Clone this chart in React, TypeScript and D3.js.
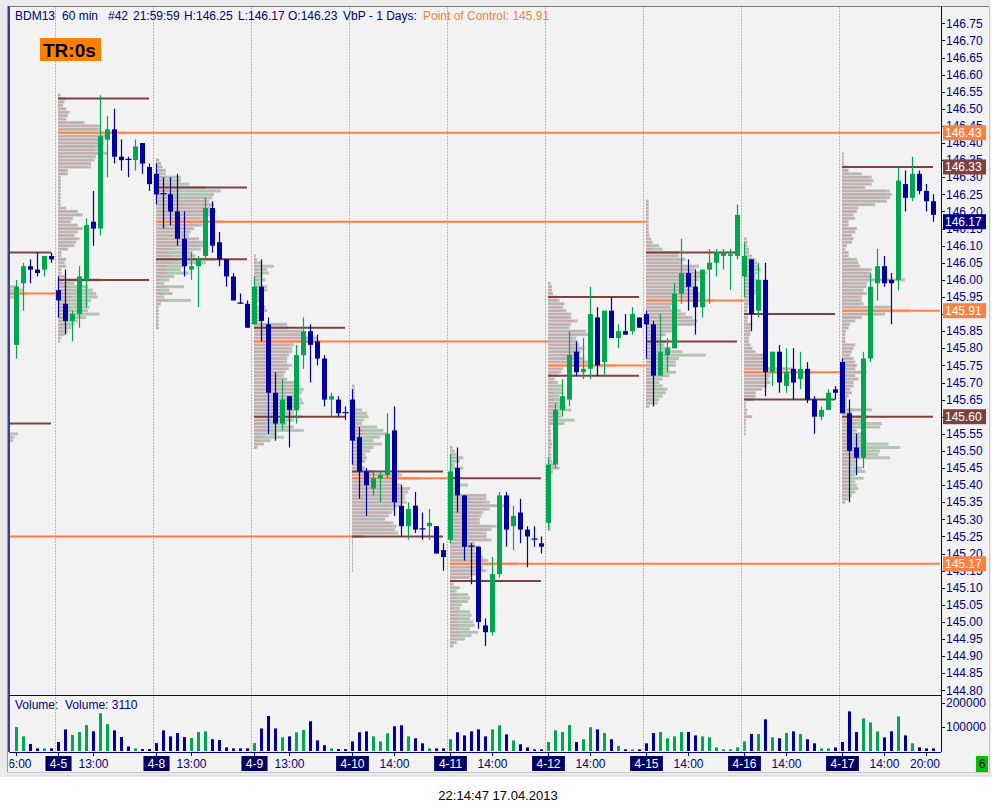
import React from 'react';
import * as d3 from 'd3';

// BDM13, 60 min bars, volume-by-price per day
const days = ['4-4', '4-5', '4-8', '4-9', '4-10', '4-11', '4-12', '4-15', '4-16', '4-17'];
// index of the 08:00 bar of each day (4-4 begins before the window)
const dayFirstBar = [-8, 6, 20, 34, 48, 62, 76, 90, 104, 118];

const opens = [
  145.81, 145.99, 146.04, 146.03, 146.03, 146.07,
  145.97, 145.93, 145.88, 145.90, 146.00, 146.17, 146.15, 146.41, 146.44, 146.36, 146.352, 146.35, 146.40, 146.33,
  146.31, 146.252, 146.25, 146.20, 146.12, 146.03, 146.04, 146.07, 146.21, 146.11, 146.06, 146.01, 145.932, 145.93,
  145.87, 145.98, 145.87, 145.67, 145.58, 145.66, 145.62, 145.78, 145.85, 145.82, 145.77, 145.65, 145.65, 145.612,
  145.65, 145.54, 145.44, 145.39, 145.42, 145.43, 145.56, 145.34, 145.28, 145.34, 145.272, 145.28, 145.28, 145.21,
  145.24, 145.45, 145.37, 145.222, 145.22, 144.99, 144.97, 145.14, 145.37, 145.28, 145.32, 145.27, 145.242, 145.23,
  145.29, 145.46, 145.62, 145.65, 145.79, 145.73, 145.74, 145.89, 145.76, 145.91, 145.83, 145.85, 145.85, 145.89,
  145.90, 145.87, 145.72, 145.78, 145.80, 145.96, 146.02, 145.98, 145.92, 146.03, 146.05, 146.07, 146.07, 146.07,
  146.01, 146.06, 145.91, 146.00, 145.73, 145.79, 145.69, 145.74, 145.71, 145.74, 145.65, 145.60, 145.62, 145.68,
  145.76, 145.61, 145.51, 145.48, 145.77, 145.99, 146.04, 146.00, 146.00, 146.28, 146.24, 146.31, 146.26, 146.23,
];
const highs = [
  146.00, 146.05, 146.06, 146.08, 146.07, 146.08,
  146.01, 146.03, 145.91, 146.04, 146.18, 146.26, 146.54, 146.48, 146.50, 146.41, 146.36, 146.41, 146.40, 146.34,
  146.34, 146.30, 146.30, 146.31, 146.20, 146.08, 146.07, 146.24, 146.23, 146.14, 146.06, 146.02, 145.96, 145.94,
  146.01, 146.06, 145.89, 145.73, 145.71, 145.66, 145.81, 145.89, 145.87, 145.84, 145.78, 145.67, 145.66, 145.63,
  145.68, 145.57, 145.45, 145.44, 145.44, 145.61, 145.63, 145.40, 145.35, 145.38, 145.32, 145.33, 145.28, 145.23,
  145.49, 145.51, 145.37, 145.23, 145.22, 145.01, 145.19, 145.38, 145.38, 145.34, 145.36, 145.28, 145.28, 145.25,
  145.48, 145.64, 145.71, 145.85, 145.82, 145.83, 145.98, 145.92, 145.91, 145.95, 145.87, 145.90, 145.92, 145.89,
  145.91, 145.88, 145.90, 145.83, 145.99, 146.12, 146.06, 146.03, 146.03, 146.09, 146.09, 146.09, 146.09, 146.22,
  146.11, 146.06, 146.05, 146.05, 145.79, 145.81, 145.80, 145.80, 145.79, 145.76, 145.66, 145.63, 145.68, 145.69,
  145.77, 145.65, 145.55, 145.79, 146.02, 146.09, 146.07, 146.02, 146.33, 146.32, 146.36, 146.32, 146.28, 146.25,
];
const lows = [
  145.77, 145.91, 145.99, 146.01, 146.01, 146.05,
  145.89, 145.84, 145.82, 145.86, 145.92, 146.10, 146.13, 146.30, 146.34, 146.32, 146.30, 146.32, 146.31, 146.26,
  146.22, 146.15, 146.16, 146.10, 146.01, 146.00, 145.92, 146.06, 146.08, 146.04, 145.98, 145.94, 145.93, 145.86,
  145.87, 145.82, 145.55, 145.53, 145.56, 145.51, 145.58, 145.74, 145.70, 145.75, 145.63, 145.60, 145.60, 145.59,
  145.46, 145.36, 145.31, 145.37, 145.35, 145.42, 145.31, 145.25, 145.24, 145.26, 145.24, 145.24, 145.20, 145.15,
  145.23, 145.32, 145.18, 145.11, 144.98, 144.93, 144.96, 145.13, 145.22, 145.21, 145.23, 145.16, 145.22, 145.20,
  145.27, 145.45, 145.60, 145.63, 145.72, 145.71, 145.71, 145.72, 145.72, 145.83, 145.80, 145.84, 145.84, 145.86,
  145.77, 145.63, 145.72, 145.73, 145.80, 145.93, 145.91, 145.84, 145.89, 145.93, 146.01, 146.03, 145.97, 146.06,
  145.95, 145.85, 145.89, 145.66, 145.69, 145.67, 145.67, 145.65, 145.68, 145.64, 145.55, 145.59, 145.62, 145.65,
  145.61, 145.35, 145.43, 145.45, 145.76, 145.94, 145.98, 145.87, 145.97, 146.20, 146.23, 146.25, 146.20, 146.17,
];
const closes = [
  145.98, 146.04, 146.03, 146.02, 146.07, 146.06,
  145.94, 145.88, 145.90, 146.01, 146.16, 146.15, 146.42, 146.44, 146.36, 146.35, 146.350, 146.39, 146.34, 146.28,
  146.25, 146.250, 146.20, 146.12, 146.04, 146.04, 146.06, 146.21, 146.10, 146.06, 146.01, 145.94, 145.930, 145.86,
  145.98, 145.88, 145.67, 145.58, 145.65, 145.62, 145.78, 145.85, 145.81, 145.77, 145.65, 145.66, 145.61, 145.610,
  145.53, 145.44, 145.40, 145.42, 145.43, 145.55, 145.35, 145.28, 145.33, 145.27, 145.270, 145.29, 145.20, 145.19,
  145.44, 145.37, 145.22, 145.220, 145.00, 144.97, 145.14, 145.37, 145.27, 145.31, 145.27, 145.25, 145.240, 145.22,
  145.46, 145.62, 145.66, 145.78, 145.73, 145.74, 145.90, 145.75, 145.91, 145.83, 145.85, 145.84, 145.90, 145.86,
  145.87, 145.72, 145.79, 145.80, 145.96, 146.02, 145.98, 145.92, 146.03, 146.05, 146.08, 146.08, 146.075, 146.19,
  146.07, 145.90, 146.00, 145.73, 145.79, 145.70, 145.73, 145.70, 145.74, 145.65, 145.60, 145.62, 145.67, 145.67,
  145.61, 145.50, 145.48, 145.77, 145.98, 146.04, 145.99, 145.99, 146.29, 146.24, 146.31, 146.26, 146.23, 146.19,
];
const volumes = [
  100000, 61000, 29000, 11000, 11000, 11000,
  37500, 90000, 67000, 79000, 108000, 82000, 157000, 112000, 86000, 58000, 19000, 11000, 8000, 8000,
  33000, 86000, 61000, 75000, 58000, 54000, 79000, 82000, 49000, 46000, 15000, 11000, 11000, 11000,
  33000, 94000, 146000, 94000, 57000, 61000, 78000, 87500, 124000, 44000, 24000, 11000, 8000, 8000,
  40000, 78000, 82000, 61000, 40000, 74000, 103000, 107000, 61000, 53000, 32000, 11000, 11000, 11000,
  49000, 78000, 65000, 82000, 90000, 61000, 90000, 107000, 69000, 44000, 28000, 15000, 7000, 7000,
  37500, 86000, 79000, 108000, 37500, 49000, 99000, 90000, 75000, 49000, 21000, 7000, 7000, 7000,
  32000, 75000, 79000, 53000, 61000, 79000, 79000, 65000, 61000, 57000, 15000, 7000, 7000, 15000,
  40000, 71000, 71000, 132000, 57000, 53000, 75000, 82000, 71000, 49000, 32000, 11000, 11000, 15000,
  37500, 165000, 79000, 136000, 119000, 82000, 57000, 82000, 144000, 65000, 32000, 15000, 11000, 11000,
];
const lastPrice = 146.17;

// volume at price, one row per 0.01 from the top price down (days 4-5 .. 4-17)
const profileTops = [146.54, 146.35, 146.07, 145.69, 145.51, 145.99, 146.23, 146.12, 146.37];
const profileVols = [
  [8, 25, 20, 15, 25, 35, 30, 25, 80, 130, 130, 205, 150, 140, 140, 125, 120, 150, 115, 110, 100, 100, 30, 30, 8, 8, 8, 8, 8, 8, 8, 8, 8,
    25, 60, 75, 45, 40, 60, 75, 60, 50, 65, 55, 50, 30, 10, 10, 25, 20, 25, 10, 10, 20, 128, 50, 90, 105, 115, 120, 100, 90, 95, 90, 125,
    85, 60, 50, 40, 30, 20, 10, 5],
  [10, 15, 20, 30, 30, 75, 75, 100, 150, 195, 175, 170, 160, 175, 165, 180, 175, 145, 205, 140, 115, 105, 100, 130, 145, 145, 135, 110,
    120, 180, 150, 90, 75, 100, 55, 40, 25, 85, 40, 50, 25, 105, 15, 8, 8, 8, 8, 8, 8, 8],
  [5, 10, 25, 60, 40, 45, 25, 35, 20, 40, 40, 25, 30, 15, 10, 35, 40, 15, 15, 20, 100, 105, 145, 150, 190, 205, 120, 115, 115, 105, 100,
    100, 115, 105, 95, 90, 100, 130, 140, 150, 145, 135, 145, 150, 140, 135, 120, 145, 120, 100, 120, 150, 70, 90, 50, 30, 10],
  [8, 8, 8, 8, 8, 8, 10, 30, 45, 50, 35, 30, 75, 95, 105, 85, 65, 90, 65, 55, 40, 45, 40, 30, 40, 70, 150, 205, 130, 150, 175, 170, 160,
    160, 165, 150, 130, 120, 110, 100, 125, 135, 130, 140, 40, 3, 3, 3, 3, 3, 3, 3, 3, 3, 3],
  [8, 15, 20, 40, 30, 15, 40, 10, 10, 10, 20, 55, 20, 20, 110, 110, 120, 180, 120, 100, 95, 90, 90, 140, 125, 110, 110, 125, 75, 90, 75,
    85, 100, 115, 205, 100, 110, 90, 60, 20, 10, 30, 20, 55, 60, 55, 35, 30, 60, 65, 60, 70, 75, 60, 85, 65, 45, 20, 10],
  [8, 12, 12, 15, 25, 35, 50, 45, 55, 70, 70, 90, 70, 65, 115, 125, 85, 90, 95, 110, 100, 95, 110, 130, 205, 45, 40, 30, 20, 30, 45, 40,
    45, 35, 50, 45, 55, 70, 40, 40, 80, 50, 8, 8, 10, 8, 10, 12, 10, 8, 10, 10, 12, 20, 35, 15, 8, 8, 8, 8, 8, 8, 8, 8, 8, 8, 8, 8, 8, 8,
    8, 8, 8],
  [8, 8, 8, 8, 8, 8, 8, 8, 8, 8, 10, 15, 20, 40, 50, 100, 100, 120, 110, 160, 150, 185, 165, 160, 150, 155, 150, 165, 165, 205, 90, 75,
    105, 120, 140, 155, 150, 90, 80, 60, 45, 60, 55, 75, 110, 180, 100, 90, 90, 70, 90, 70, 50, 40, 50, 65, 60, 50, 40, 35, 10],
  [8, 10, 10, 15, 15, 25, 35, 40, 45, 50, 40, 35, 40, 40, 35, 45, 35, 20, 15, 15, 12, 10, 10, 12, 10, 25, 20, 20, 20, 15, 15, 20, 25,
    35, 60, 65, 70, 65, 150, 205, 80, 75, 80, 70, 55, 35, 35, 30, 5, 5, 10, 8, 25, 5, 5, 5, 5, 5],
  [5, 5, 5, 5, 15, 20, 60, 90, 95, 90, 70, 145, 150, 145, 135, 100, 50, 45, 35, 40, 20, 20, 45, 40, 30, 35, 30, 15, 10, 20, 20, 45, 50,
    55, 90, 85, 90, 190, 75, 75, 65, 75, 60, 60, 65, 150, 205, 130, 60, 40, 25, 20, 12, 10, 10, 10, 40, 35, 30, 25, 35, 40, 45, 40, 75,
    40, 50, 35, 35, 25, 30, 20, 15, 15, 15, 90, 30, 80, 60, 120, 115, 45, 60, 70, 75, 140, 175, 115, 110, 145, 45, 40, 60, 70, 40, 65, 40,
    45, 50, 40, 30, 20, 10],
];
// price bands where buying volume shows up in the profile rows
const profileBuyBands = [
  [[145.99, 145.83]],
  [[146.31, 146.25], [146.09, 145.94]],
  [[146.06, 145.92], [145.60, 145.53]],
  [[145.62, 145.50]],
  [[145.50, 145.40], [145.10, 144.94]],
  [[145.69, 145.59]],
  [[146.10, 146.09], [145.80, 145.64]],
  [[146.08, 145.97]],
  [[145.62, 145.37]],
];
// the part of the 4-4 profile that reaches into the window
const profile44 = [[145.98, 175], [145.97, 190], [145.96, 205], [145.95, 180], [145.55, 175], [145.54, 165], [145.53, 160]];

// point of control per day and the day that traded back through it (-1 = still open)
const pocPrices = [145.96, 146.43, 146.17, 145.82, 145.42, 145.17, 145.75, 145.94, 145.73, 145.91];
const pocEndDay = [1, -1, 7, 6, 5, -1, 7, 8, 9, -1];
const olderPoc = { price: 145.25, endDay: 4 };
const vahPrices = [146.08, 146.53, 146.27, 145.86, 145.44, 145.42, 145.95, 146.08, 145.90, 146.33];
const valPrices = [145.58, 146.00, 146.06, 145.60, 145.25, 145.12, 145.72, 145.82, 145.65, 145.60];

const timeTicks = [
  { bar: 0, text: '16:00' }, { bar: 6, text: '4-5', date: true }, { bar: 11, text: '13:00' },
  { bar: 20, text: '4-8', date: true }, { bar: 25, text: '13:00' }, { bar: 34, text: '4-9', date: true },
  { bar: 39, text: '13:00' }, { bar: 48, text: '4-10', date: true }, { bar: 54, text: '14:00' },
  { bar: 62, text: '4-11', date: true }, { bar: 68, text: '14:00' }, { bar: 76, text: '4-12', date: true },
  { bar: 82, text: '14:00' }, { bar: 90, text: '4-15', date: true }, { bar: 96, text: '14:00' },
  { bar: 104, text: '4-16', date: true }, { bar: 110, text: '14:00' }, { bar: 118, text: '4-17', date: true },
  { bar: 124, text: '14:00' }, { bar: 130, text: '20:00' },
];
const volumeTicks = [100000, 200000];

// header pieces as the platform spaces them
const headerParts = [
  { x: 15, text: 'BDM13' }, { x: 62, text: '60 min' }, { x: 108, text: '#42' }, { x: 133, text: '21:59:59' },
  { x: 184, text: 'H:146.25' }, { x: 238, text: 'L:146.17' }, { x: 288, text: 'O:146.23' }, { x: 343, text: 'VbP - 1 Days:' },
];

const GREEN = '#00a651';
const BLUE = '#0000a0';
const NAVY = '#000080';
const ORANGE = '#ff8040';
const BROWN = '#804040';
const FONT = '"Liberation Sans", Arial, sans-serif';

const L = 9.5, R = 941, T = 6.5, MID = 695, B = 752;

const x = d3.scaleLinear().domain([0, 131]).range([16, 933]);
const y = d3.scaleLinear().domain([144.8, 146.75]).range([690.4, 23.3]);
const yVol = d3.scaleLinear().domain([0, 200000]).range([751, 703]);
const wProf = d3.scaleLinear().domain([0, 205]).range([0, 68]);

const priceTicks = d3.range(0, 40).map((i) => +(144.8 + i * 0.05).toFixed(2));
const lastBar = opens.length - 1;

const inBands = (p: number, bands: number[][]) => bands.some(([hi, lo]) => p <= hi + 0.001 && p >= lo - 0.001);

const App: React.FC = () => {
  const profileRows: React.ReactNode[] = [];
  profileVols.forEach((vols, d) => {
    const x0 = x(dayFirstBar[d + 1]);
    const poc = pocPrices[d + 1];
    vols.forEach((v, r) => {
      const p = +(profileTops[d] - r * 0.01).toFixed(2);
      const yy = y(p);
      const w = wProf(v);
      const isPoc = Math.abs(p - poc) < 0.001;
      const buy = inBands(p, profileBuyBands[d]);
      profileRows.push(
        <g key={`p${d}-${r}`}>
          <rect x={x0} y={yy - 1.5} width={w} height={3} fill={isPoc ? '#f7c4ae' : '#bebebe'} />
          {!isPoc && !buy && <rect x={x0} y={yy - 0.7} width={w * 0.9} height={1.4} fill="#c7a9a9" />}
          {!isPoc && buy && (
            <>
              <rect x={x0} y={yy - 0.7} width={w * 0.35} height={1.4} fill="#c7a4a4" />
              <rect x={x0 + w * 0.35} y={yy - 0.7} width={w * 0.57} height={1.4} fill="#a4cda4" />
            </>
          )}
        </g>
      );
    });
  });
  profile44.forEach(([p, v], r) => {
    const x0 = x(dayFirstBar[0]);
    profileRows.push(
      <rect key={`p44-${r}`} x={x0} y={y(p) - 1.5} width={wProf(v)} height={3}
        fill={Math.abs(p - pocPrices[0]) < 0.001 ? '#f7c4ae' : '#bebebe'} />
    );
  });

  const barEnd = (endDay: number) => (endDay < 0 ? R - 1 : x(dayFirstBar[endDay]));

  const axisLabels = [
    { p: pocPrices[1], fill: ORANGE },
    { p: vahPrices[9], fill: BROWN },
    { p: lastPrice, fill: NAVY },
    { p: pocPrices[9], fill: ORANGE },
    { p: valPrices[9], fill: BROWN },
    { p: pocPrices[5], fill: ORANGE },
  ];

  return (
    <svg width={996} height={811} style={{ position: 'absolute', left: 0, top: 0 }} fontFamily={FONT}>
      <defs>
        <clipPath id="pricePane"><rect x={L + 0.5} y={T + 0.5} width={R - L - 1} height={MID - T - 1} /></clipPath>
        <clipPath id="volPane"><rect x={L + 0.5} y={MID + 0.5} width={R - L - 1} height={B - MID - 1} /></clipPath>
        <clipPath id="timeAxis"><rect x={L} y={B} width={R - L + 1} height={20} /></clipPath>
      </defs>
      <rect x={0} y={0} width={996} height={811} fill="#ffffff" />
      <rect x={0} y={0} width={991} height={777} fill="#ebebeb" />
      <rect x={7} y={T} width={982} height={766} fill="#f2f2f2" />
      <line x1={7} x2={989} y1={T} y2={T} stroke="#7a7a7a" />
      <line x1={7.5} x2={7.5} y1={T} y2={772} stroke="#9a9a9a" />
      <line x1={989.5} x2={989.5} y1={T} y2={773} stroke="#c8c8c8" />
      <line x1={7} x2={990} y1={772.5} y2={772.5} stroke="#c8c8c8" />
      <line x1={7} x2={990} y1={775.5} y2={775.5} stroke="#dcdcdc" />

      {/* day separators */}
      {dayFirstBar.slice(1).map((b, i) => (
        <line key={`sep${i}`} x1={Math.round(x(b) - 3.5) + 0.5} x2={Math.round(x(b) - 3.5) + 0.5} y1={T + 1} y2={B}
          stroke="#808080" strokeDasharray="1,2" />
      ))}

      <g clipPath="url(#pricePane)">
        {profileRows}

        {/* value area lines */}
        {vahPrices.map((p, d) => (
          <line key={`vah${d}`} x1={x(dayFirstBar[d])} x2={x(Math.min(dayFirstBar[d] + 13, lastBar))} y1={y(p)} y2={y(p)}
            stroke={BROWN} strokeWidth={2} />
        ))}
        {valPrices.map((p, d) => (
          <line key={`val${d}`} x1={x(dayFirstBar[d])} x2={x(Math.min(dayFirstBar[d] + 13, lastBar))} y1={y(p)} y2={y(p)}
            stroke={BROWN} strokeWidth={2} />
        ))}

        {/* points of control, running until traded through */}
        <line x1={0} x2={barEnd(olderPoc.endDay)} y1={y(olderPoc.price)} y2={y(olderPoc.price)} stroke={ORANGE} strokeWidth={2} />
        {pocPrices.map((p, d) => (
          <line key={`poc${d}`} x1={x(dayFirstBar[d])} x2={barEnd(pocEndDay[d])} y1={y(p)} y2={y(p)} stroke={ORANGE} strokeWidth={2} />
        ))}

        {/* candles */}
        {opens.map((o, i) => {
          const c = closes[i];
          const col = c > o ? GREEN : BLUE;
          const cx = Math.round(x(i)) + 0.5;
          const top = y(Math.max(o, c));
          const bot = y(Math.min(o, c));
          const doji = Math.abs(c - o) < 0.004;
          return (
            <g key={`c${i}`}>
              <line x1={cx} x2={cx} y1={y(highs[i])} y2={y(lows[i])} stroke={col} strokeWidth={1.2} />
              {doji ? (
                <line x1={cx - 3} x2={cx + 3} y1={top} y2={top} stroke={col} strokeWidth={1.3} />
              ) : (
                <rect x={cx - 2.5} y={top} width={5} height={Math.max(1.2, bot - top)} fill={col} />
              )}
            </g>
          );
        })}
      </g>

      {/* volume */}
      <g clipPath="url(#volPane)">
        {volumes.map((v, i) => (
          <rect key={`v${i}`} x={Math.round(x(i)) - 1} y={yVol(v)} width={3} height={yVol(0) - yVol(v)}
            fill={closes[i] > opens[i] ? GREEN : BLUE} />
        ))}
      </g>

      {/* frame lines */}
      <line x1={9} x2={9} y1={T} y2={B} stroke={NAVY} strokeWidth={1.5} />
      <line x1={R + 0.5} x2={R + 0.5} y1={T} y2={B} stroke={NAVY} />
      <line x1={L} x2={R} y1={MID + 0.5} y2={MID + 0.5} stroke={NAVY} />
      <line x1={L} x2={R} y1={B + 0.5} y2={B + 0.5} stroke={NAVY} />

      {/* price axis */}
      {priceTicks.map((p) => (
        <g key={`pt${p}`}>
          <line x1={R} x2={R + 4} y1={Math.round(y(p)) + 0.5} y2={Math.round(y(p)) + 0.5} stroke={NAVY} />
          <text x={R + 5} y={y(p)} dy="0.35em" fontSize={12} fill={NAVY}>{p.toFixed(2)}</text>
        </g>
      ))}
      {axisLabels.map((a, i) => (
        <g key={`al${i}`}>
          <rect x={R + 2} y={y(a.p) - 7.5} width={43} height={15} fill={a.fill} />
          <text x={R + 4} y={y(a.p)} dy="0.36em" fontSize={12} fill="#ffffff">{a.p.toFixed(2)}</text>
        </g>
      ))}

      {/* volume axis */}
      {volumeTicks.map((v) => (
        <g key={`vt${v}`}>
          <line x1={R} x2={R + 4} y1={Math.round(yVol(v)) + 0.5} y2={Math.round(yVol(v)) + 0.5} stroke={NAVY} />
          <text x={R + 5} y={yVol(v)} dy="0.35em" fontSize={12} fill={NAVY}>{v}</text>
        </g>
      ))}

      {/* time axis */}
      <g clipPath="url(#timeAxis)">
        {timeTicks.map((t) => {
          const tx = Math.round(x(t.bar)) + 0.5;
          const wBox = t.text.length * 6.7 + 6;
          const lx = t.date ? tx : Math.min(tx, R - 16);
          return (
            <g key={`tt${t.bar}`}>
              <line x1={tx} x2={tx} y1={B} y2={B + 4} stroke={NAVY} />
              {t.date && <rect x={tx - wBox / 2} y={B + 4} width={wBox} height={15} fill="#000060" />}
              <text x={lx} y={B + 11.5} dy="0.35em" textAnchor="middle" fontSize={12} fill={t.date ? '#ffffff' : NAVY}>
                {t.text}
              </text>
            </g>
          );
        })}
      </g>
      <rect x={976} y={756} width={12} height={16} fill="#00c000" />
      <text x={982} y={764} dy="0.35em" textAnchor="middle" fontSize={12} fill="#000000">6</text>

      {/* header */}
      {headerParts.map((h) => (
        <text key={h.text} x={h.x} y={20} fontSize={12} fill={NAVY}>{h.text}</text>
      ))}
      <text x={423} y={20} fontSize={12} fill={ORANGE}>{'Point of Control: ' + pocPrices[9].toFixed(2)}</text>
      <rect x={40} y={38} width={61} height={23} fill="#ff8000" />
      <text x={43} y={56.5} fontSize={19} fontWeight="bold" fill="#000000">TR:0s</text>

      <text x={15} y={705} dy="0.35em" fontSize={12} fill={NAVY} style={{ whiteSpace: 'pre' }}>
        {'Volume:  Volume: 3110'}
      </text>

      <text x={498} y={795} dy="0.35em" textAnchor="middle" fontSize={13} fill="#000000">22:14:47 17.04.2013</text>
    </svg>
  );
};

export default App;
